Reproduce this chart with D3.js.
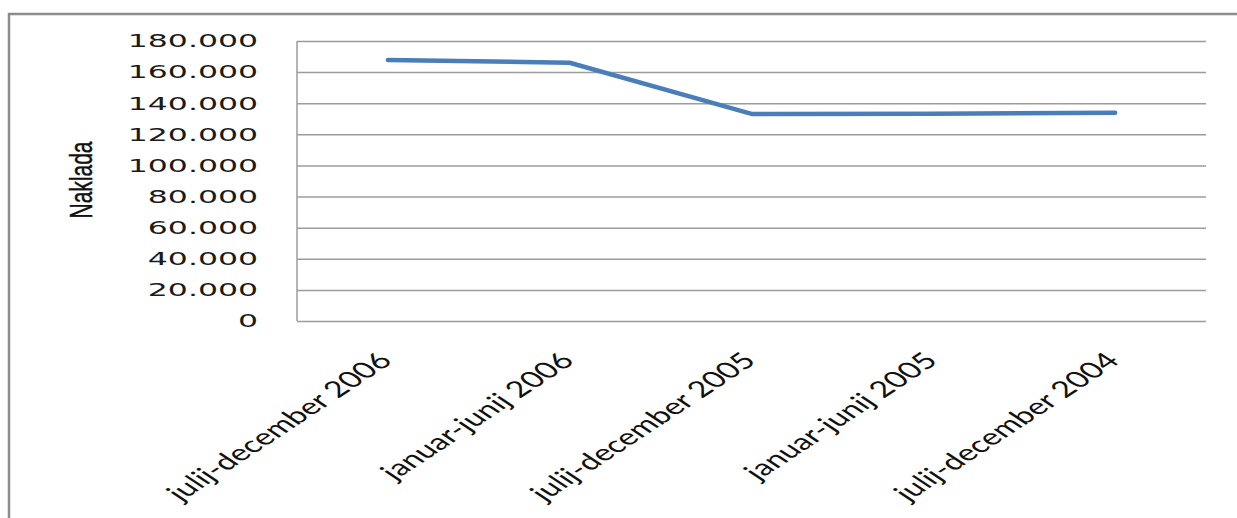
<!DOCTYPE html>
<html>
<head>
<meta charset="utf-8">
<script src="https://cdn.jsdelivr.net/npm/d3@7"></script>
<style>
  html, body { margin: 0; padding: 0; background: #fff; }
  svg { display: block; }
</style>
</head>
<body>
<svg id="chart" width="1237" height="518"></svg>
<script>
// Naklada po polletjih
const categories = [
  "julij-december 2006",
  "januar-junij 2006",
  "julij-december 2005",
  "januar-junij 2005",
  "julij-december 2004"
];
const naklada = [167800, 166000, 133100, 133300, 133900];
const yTicks = [0, 20000, 40000, 60000, 80000, 100000, 120000, 140000, 160000, 180000];
const yTitle = "Naklada";

const svg = d3.select("#chart");
const W = 1237, H = 518;
const plot = { left: 297, right: 1206, top: 41, bottom: 321 };
const stretch = 1.52;

const fmt = d3.formatLocale({ decimal: ",", thousands: ".", grouping: [3], currency: ["", ""] }).format(",");

const x = d3.scalePoint().domain(categories).range([plot.left, plot.right]).padding(0.5);
const y = d3.scaleLinear().domain([0, 180000]).range([plot.bottom, plot.top]);

// outer frame
svg.append("rect")
  .attr("x", 9).attr("y", 14)
  .attr("width", W + 20).attr("height", H + 20)
  .attr("fill", "none").attr("stroke", "#8c8c8c").attr("stroke-width", 2.5);

// horizontal gridlines
const grid = svg.append("g")
  .attr("transform", `translate(${plot.left},0)`)
  .call(d3.axisLeft(y).tickValues(yTicks).tickSize(-(plot.right - plot.left)).tickFormat(""));
grid.select(".domain").remove();
grid.selectAll(".tick line").attr("stroke", "#9c9c9c").attr("stroke-width", 1.5);

// vertical axis line
svg.append("line")
  .attr("x1", plot.left).attr("x2", plot.left)
  .attr("y1", plot.top).attr("y2", plot.bottom)
  .attr("stroke", "#9c9c9c").attr("stroke-width", 1.5);

// y tick labels
svg.append("g").selectAll("text")
  .data(yTicks)
  .join("text")
  .attr("transform", d => `translate(258,${y(d)}) scale(1.8,1)`)
  .attr("text-anchor", "end")
  .attr("dy", "0.36em")
  .attr("font-family", "DejaVu Sans")
  .attr("font-size", 17.5)
  .attr("fill", "#1a1a1a")
  .text(d => fmt(d));

// y axis title
svg.append("text")
  .attr("transform", `translate(92,180) scale(${stretch},1) rotate(-90)`)
  .attr("text-anchor", "middle")
  .attr("font-family", "Liberation Sans")
  .attr("font-size", 21)
  .attr("fill", "#111")
  .attr("stroke", "#111")
  .attr("stroke-width", 0.3)
  .text(yTitle);

// category labels
svg.append("g").selectAll("text")
  .data(categories)
  .join("text")
  .attr("transform", d => `translate(${x(d) + 6},362) scale(${stretch},1) rotate(-45)`)
  .attr("text-anchor", "end")
  .attr("font-family", "Lato")
  .attr("font-size", 22.5)
  .attr("fill", "#111")
  .text(d => d);

// series line
const line = d3.line()
  .x((d, i) => x(categories[i]))
  .y(d => y(d));

svg.append("path")
  .datum(naklada)
  .attr("d", line)
  .attr("fill", "none")
  .attr("stroke", "#4a7ebb")
  .attr("stroke-width", 4.5)
  .attr("stroke-linecap", "round")
  .attr("stroke-linejoin", "round");
</script>
</body>
</html>
